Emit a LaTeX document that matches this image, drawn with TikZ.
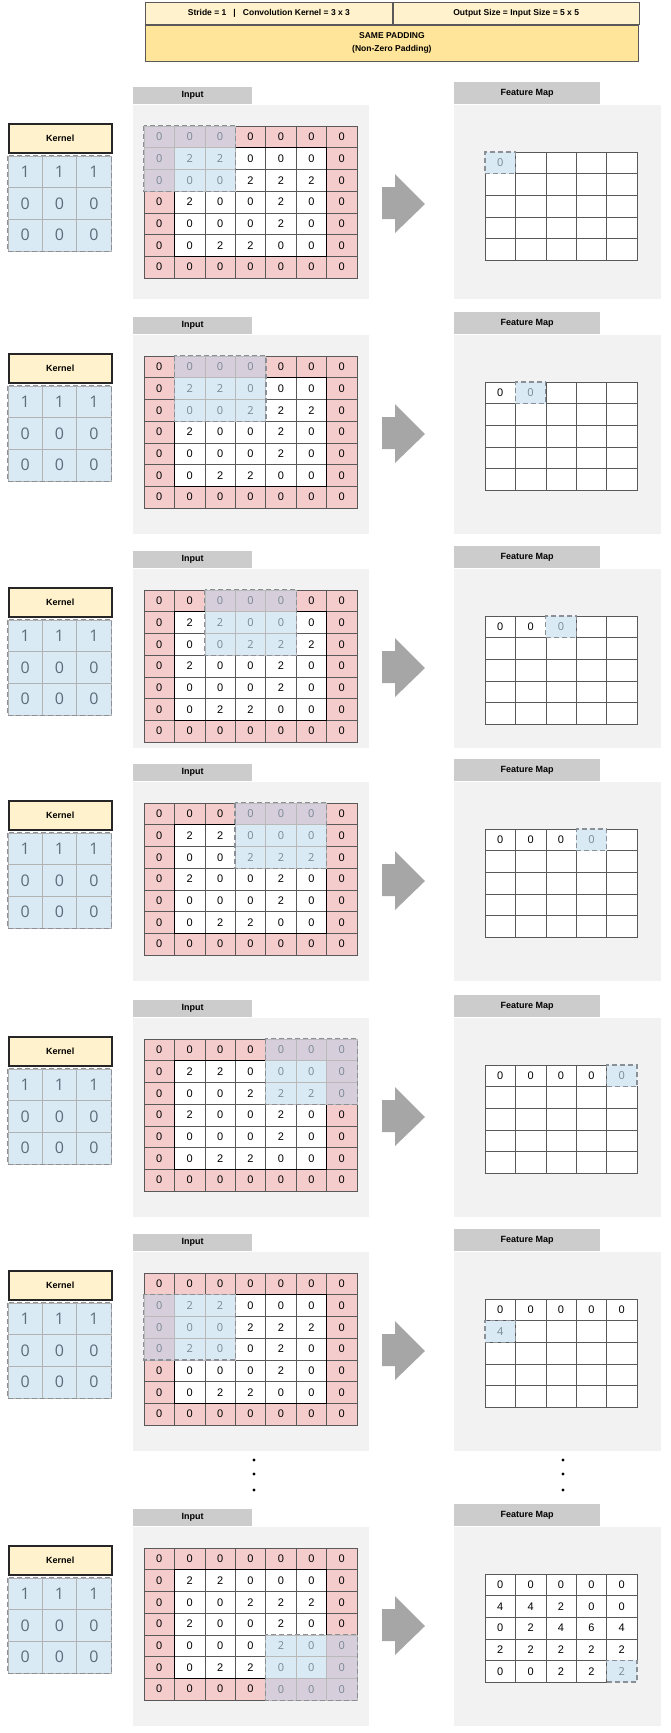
\documentclass[tikz,border=0pt]{standalone}
\usepackage{fontspec}
\setmainfont{Liberation Sans}
\newfontfamily\kernfont{Open Sans}
\usetikzlibrary{positioning}

\definecolor{padpink}{HTML}{F4CCCC}
\definecolor{winblue}{HTML}{DAEAF5}
\definecolor{winmix}{HTML}{D6CFDB}
\definecolor{panelgray}{HTML}{F2F2F2}
\definecolor{headgray}{HTML}{CCCCCC}
\definecolor{paleyellow}{HTML}{FFF2CC}
\definecolor{deepyellow}{HTML}{FFE599}
\definecolor{arrowgray}{HTML}{A6A6A6}
\definecolor{wintext}{HTML}{7A8794}
\definecolor{kerntext}{HTML}{5C6C7A}
\definecolor{linegray}{HTML}{595959}
\definecolor{dashgray}{HTML}{8A9096}

\def\inputvals{{0,0,0,0,0,0,0, 0,2,2,0,0,0,0, 0,0,0,2,2,2,0, 0,2,0,0,2,0,0, 0,0,0,0,2,0,0, 0,0,2,2,0,0,0, 0,0,0,0,0,0,0}}
\def\fmvals{{0,0,0,0,0, 4,4,2,0,0, 0,2,4,6,4, 2,2,2,2,2, 0,0,2,2,2}}

\begin{document}
\begin{tikzpicture}[x=1pt, y=-1pt,
    topcell/.style={rectangle, draw=linegray, line width=0.8pt, fill=paleyellow, inner sep=0pt, minimum height=22pt, font=\fontsize{8.5}{10}\selectfont\bfseries},
    topband/.style={rectangle, draw=linegray, line width=0.8pt, fill=deepyellow, inner sep=0pt, align=center, minimum width=493pt, minimum height=36pt, font=\fontsize{8.5}{13}\selectfont\bfseries},
    kernhead/.style={rectangle, draw=black!85, line width=1.5pt, fill=paleyellow, anchor=north west, inner sep=0pt, minimum width=103pt, minimum height=29pt, font=\fontsize{9}{10}\selectfont\bfseries},
    kerncell/.style={rectangle, draw=gray!60, line width=0.5pt, fill=winblue, inner sep=0pt, minimum width=34.33pt, minimum height=31.67pt, text=kerntext, font=\kernfont\fontsize{16}{18}\selectfont},
    inhead/.style={rectangle, fill=headgray, anchor=north west, inner sep=0pt, minimum width=119pt, minimum height=17pt, font=\fontsize{9}{10}\selectfont\bfseries},
    fmhead/.style={rectangle, fill=headgray, anchor=north west, inner sep=0pt, minimum width=146pt, minimum height=22pt, font=\fontsize{9}{10}\selectfont\bfseries},
    inpanel/.style={rectangle, fill=panelgray, inner sep=0pt, minimum width=236pt},
    fmpanel/.style={rectangle, fill=panelgray, inner sep=0pt, minimum width=207pt},
    padcell/.style={rectangle, draw=linegray, line width=0.5pt, fill=padpink, inner sep=0pt, minimum width=30.43pt, minimum height=21.71pt, font=\fontsize{11}{12}\selectfont},
    midcell/.style={padcell, fill=white},
    winpad/.style={padcell, draw=gray!55, fill=winmix, text=wintext, font=\kernfont\fontsize{11}{12}\selectfont},
    winmid/.style={winpad, fill=winblue},
    fmcell/.style={rectangle, draw=linegray, line width=0.5pt, fill=white, inner sep=0pt, minimum width=30.4pt, minimum height=21.6pt, font=\fontsize{11}{12}\selectfont},
    fmhigh/.style={fmcell, fill=winblue, draw=dashgray, line width=1.3pt, dash pattern=on 5pt off 3pt, text=wintext, font=\kernfont\fontsize{11}{12}\selectfont},
    windash/.style={draw=dashgray, line width=1.3pt, dash pattern=on 5pt off 3pt},
    inner5/.style={draw=black, line width=1.1pt}]

    \useasboundingbox (0,0) rectangle (671,1733);

    \node[topcell, anchor=north west, minimum width=247pt] (stride) at (145,2) {Stride = 1 \ \ | \ \ Convolution Kernel = 3 x 3};
    \node[topcell, right=0pt of stride, minimum width=246pt] (outsize) {Output Size = Input Size = 5 x 5};
    \node[topband, below=0pt of stride.south west, anchor=north west] (padding) {SAME PADDING\\(Non-Zero Padding)};

    \foreach \k/\yo/\ph/\wr/\wc/\nf in {1/0/194/0/0/1, 2/230/199/0/1/2, 3/464/179/0/2/3, 4/677/199/0/3/4, 5/913/199/0/4/5, 6/1147/199/1/0/6, 7/1422/199/4/4/25}{

        % kernel
        \node[kernhead] (kernhead\k) at (8,\yo+123) {Kernel};
        \foreach \i in {0,1,2}{
            \foreach \j in {0,1,2}{
                \pgfmathtruncatemacro\v{\i==0}
                \node[kerncell] (kern\k-\i-\j) at ({8+34.33*(\j+0.5)},{\yo+156+31.67*(\i+0.5)}) {\v};
            }
        }
        \draw[windash] (kern\k-0-0.north west) rectangle (kern\k-2-2.south east);

        % input
        \node[inhead] (inhead\k) at (133,\yo+87) {Input};
        \node[inpanel, minimum height=\ph pt, below=0pt of inhead\k.south west, anchor=north west] (inpanel\k) {};
        \foreach \i in {0,...,6}{
            \foreach \j in {0,...,6}{
                \pgfmathtruncatemacro\v{\inputvals[7*\i+\j]}
                \pgfmathtruncatemacro\pad{or(or(\i==0,\i==6),or(\j==0,\j==6))}
                \pgfmathtruncatemacro\inwin{and(and(\i>=\wr,\i<=\wr+2),and(\j>=\wc,\j<=\wc+2))}
                \ifnum\inwin=0
                    \ifnum\pad=1
                        \node[padcell] (in\k-\i-\j) at ({144+30.43*(\j+0.5)},{\yo+126+21.71*(\i+0.5)}) {\v};
                    \else
                        \node[midcell] (in\k-\i-\j) at ({144+30.43*(\j+0.5)},{\yo+126+21.71*(\i+0.5)}) {\v};
                    \fi
                \fi
            }
        }
        \draw[inner5] (144+30.43,\yo+126+21.71) rectangle (144+30.43*6,\yo+126+21.71*6);
        \foreach \i in {0,...,6}{
            \foreach \j in {0,...,6}{
                \pgfmathtruncatemacro\v{\inputvals[7*\i+\j]}
                \pgfmathtruncatemacro\pad{or(or(\i==0,\i==6),or(\j==0,\j==6))}
                \pgfmathtruncatemacro\inwin{and(and(\i>=\wr,\i<=\wr+2),and(\j>=\wc,\j<=\wc+2))}
                \ifnum\inwin=1
                    \ifnum\pad=1
                        \node[winpad] (in\k-\i-\j) at ({144+30.43*(\j+0.5)},{\yo+126+21.71*(\i+0.5)}) {\v};
                    \else
                        \node[winmid] (in\k-\i-\j) at ({144+30.43*(\j+0.5)},{\yo+126+21.71*(\i+0.5)}) {\v};
                    \fi
                \fi
            }
        }
        \pgfmathtruncatemacro\wrr{\wr+2}
        \pgfmathtruncatemacro\wcc{\wc+2}
        \draw[windash] (in\k-\wr-\wc.north west) rectangle (in\k-\wrr-\wcc.south east);

        % arrow
        \fill[arrowgray] (382,\yo+187) -- (395,\yo+187) -- (395,\yo+174) -- (425,\yo+204)
            -- (395,\yo+233) -- (395,\yo+219) -- (382,\yo+219) -- cycle;

        % feature map
        \node[fmhead] (fmhead\k) at (454,\yo+82) {Feature Map};
        \node[fmpanel, minimum height=\ph pt, below=0pt of fmhead\k.south west, anchor=north west] (fmpanel\k) {};
        \pgfmathtruncatemacro\last{\nf-1}
        \foreach \n in {0,...,24}{
            \pgfmathtruncatemacro\i{div(\n,5)}
            \pgfmathtruncatemacro\j{mod(\n,5)}
            \pgfmathtruncatemacro\v{\fmvals[\n]}
            \ifnum\n<\last
                \node[fmcell] (fm\k-\i-\j) at ({485+30.4*(\j+0.5)},{\yo+152+21.6*(\i+0.5)}) {\v};
            \else\ifnum\n>\last
                \node[fmcell] (fm\k-\i-\j) at ({485+30.4*(\j+0.5)},{\yo+152+21.6*(\i+0.5)}) {};
            \fi\fi
        }
        \pgfmathtruncatemacro\i{div(\last,5)}
        \pgfmathtruncatemacro\j{mod(\last,5)}
        \pgfmathtruncatemacro\v{\fmvals[\last]}
        \node[fmhigh] (fm\k-\i-\j) at ({485+30.4*(\j+0.5)},{\yo+152+21.6*(\i+0.5)}) {\v};
    }

    \foreach \d/\x in {1/254, 2/563}{
        \fill (\x,1460) circle (1.6);
        \fill (\x,1474) circle (1.6);
        \fill (\x,1490) circle (1.6);
    }

\end{tikzpicture}
\end{document}
